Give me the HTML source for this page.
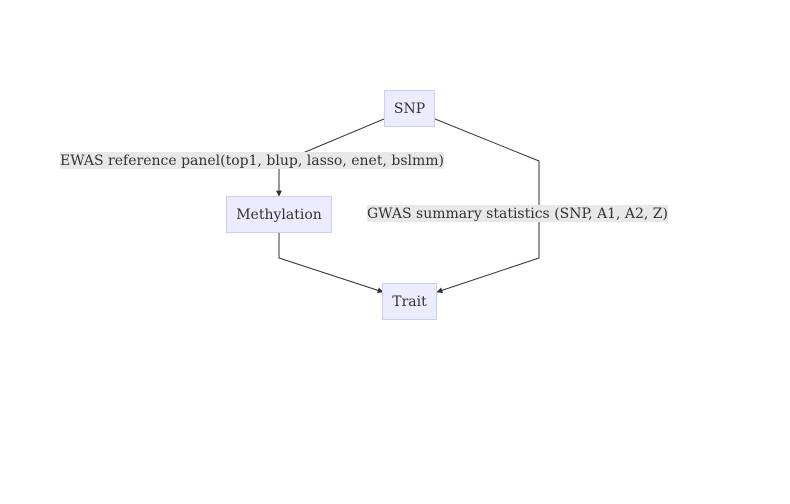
<!DOCTYPE html>
<html><head><meta charset="utf-8"><style>html,body{margin:0;padding:0;background:#fff}svg{display:block}</style></head>
<body>
<svg width="790" height="504" viewBox="0 0 790 504" xmlns="http://www.w3.org/2000/svg" font-family="'DejaVu Serif','Liberation Serif',serif" font-size="14" fill="#333">
<defs><marker id="a" viewBox="0 0 10 10" refX="9" refY="5" markerWidth="6" markerHeight="6" orient="auto"><path d="M0,0L10,5L0,10z" fill="#333"/></marker></defs>
<g fill="none" stroke="#333" stroke-width="1">
<path d="M384,119 L279,163 L279,196" marker-end="url(#a)"/>
<path d="M279,233 L279,258 L383,292" marker-end="url(#a)"/>
<path d="M435,119 L539,161 L539,258 L437,292" marker-end="url(#a)"/>
</g>
<rect x="60" y="152" width="384" height="17" fill="#e8e8e8"/>
<rect x="367" y="205" width="301" height="17" fill="#e8e8e8"/>
<text x="60" y="165" textLength="384" lengthAdjust="spacingAndGlyphs" fill="#333">EWAS reference panel(top1, blup, lasso, enet, bslmm)</text>
<text x="367" y="218" textLength="301" lengthAdjust="spacingAndGlyphs" fill="#333">GWAS summary statistics (SNP, A1, A2, Z)</text>
<g fill="#ececff" stroke="#ccccff" stroke-width="1">
<rect x="384.5" y="90.5" width="50" height="36"/>
<rect x="226.5" y="196.5" width="105" height="36"/>
<rect x="382.5" y="283.5" width="54" height="36"/>
</g>
<g text-anchor="middle" fill="#333">
<text x="409.5" y="113">SNP</text>
<text x="279" y="219">Methylation</text>
<text x="409.5" y="306">Trait</text>
</g>
</svg>
</body></html>
